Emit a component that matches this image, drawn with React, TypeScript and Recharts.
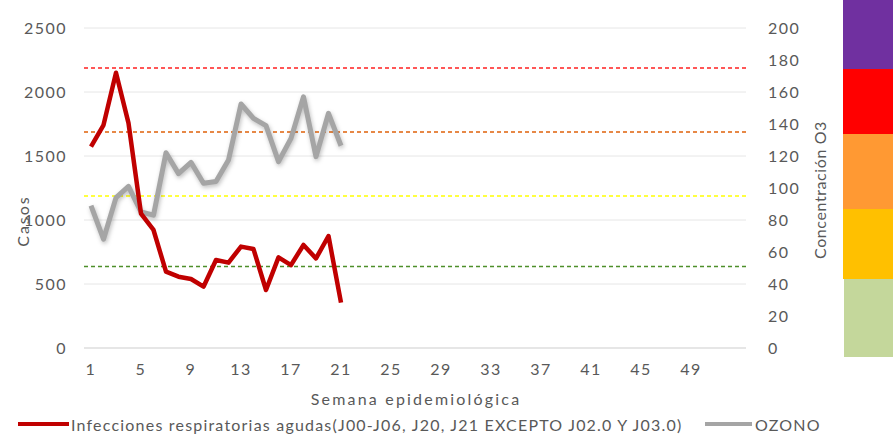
import React from 'react';
import { LineChart, Line, XAxis, YAxis, CartesianGrid, ReferenceLine } from 'recharts';

const weeks = [1, 2, 3, 4, 5, 6, 7, 8, 9, 10, 11, 12, 13, 14, 15, 16, 17, 18, 19, 20, 21, 22, 23, 24, 25, 26, 27, 28, 29, 30, 31, 32, 33, 34, 35, 36, 37, 38, 39, 40, 41, 42, 43, 44, 45, 46, 47, 48, 49, 50, 51, 52, 53];
const casos = [1573, 1742, 2151, 1757, 1050, 922, 596, 557, 539, 479, 687, 667, 792, 773, 453, 708, 648, 805, 700, 875, 354];
const ozono = [89, 68, 94, 101, 85, 83, 122, 109, 116, 103, 104, 117.5, 152.5, 143.5, 139, 116.5, 131, 157, 119.6, 146.7, 126.4];
const leftTicks = [0, 500, 1000, 1500, 2000, 2500];
const rightTicks = [0, 20, 40, 60, 80, 100, 120, 140, 160, 180, 200];
const thresholdValues = [175, 135, 95, 51];
const seriesNames = ['Infecciones respiratorias agudas(J00-J06, J20, J21 EXCEPTO J02.0 Y J03.0)', 'OZONO'];

const thresholdColors = ['#FF2020', '#E0620A', '#FFFF00', '#4E8F2A'];

const data = weeks.map((w, i) => ({
  week: w,
  casos: i < casos.length ? casos[i] : null,
  ozono: i < ozono.length ? ozono[i] : null,
}));

const FONT = 'Lato, "Open Sans", sans-serif';
const TXT = '#595959';

export default function App() {
  const tickStyle = { fill: TXT, fontSize: 16, fontFamily: FONT, letterSpacing: 1.5 };
  return (
    <div style={{ position: 'absolute', left: 0, top: 0, width: 893, height: 434, background: '#fff', fontFamily: FONT, overflow: 'hidden' }}>
      <LineChart width={893} height={434} data={data} margin={{ top: 28, right: 87, bottom: 56, left: 24 }}>
        <CartesianGrid yAxisId="left" vertical={false} stroke="#E6E6E6" />
        <XAxis
          dataKey="week"
          interval={3}
          tickFormatter={(v: number) => (v === 53 ? '' : String(v))}
          tickLine={false}
          axisLine={{ stroke: '#D9D9D9' }}
          tick={tickStyle}
          tickMargin={10}
          height={30}
          padding={{ left: 7, right: 5 }}
        />
        <YAxis
          yAxisId="left"
          domain={[0, 2500]}
          ticks={leftTicks}
          tickLine={false}
          axisLine={false}
          tick={tickStyle}
          tickMargin={11}
          width={60}
        />
        <YAxis
          yAxisId="right"
          orientation="right"
          domain={[0, 200]}
          ticks={rightTicks}
          tickLine={false}
          axisLine={false}
          tick={{ ...tickStyle, textAnchor: 'start' }}
          tickMargin={16}
          width={60}
        />
        {thresholdValues.map((v, i) => (
          <ReferenceLine key={v} yAxisId="right" y={v} stroke={thresholdColors[i]} strokeDasharray="4 3" strokeWidth={1.5} />
        ))}
        <Line yAxisId="right" dataKey="ozono" stroke="#A5A5A5" strokeWidth={5} dot={false} isAnimationActive={false} connectNulls={false} strokeLinejoin="round" style={{ filter: 'drop-shadow(1px 2px 2px rgba(0,0,0,0.25))' }} />
        <Line yAxisId="left" dataKey="casos" stroke="#C00000" strokeWidth={4.5} dot={false} isAnimationActive={false} connectNulls={false} strokeLinejoin="round" />
      </LineChart>

      <div style={{ position: 'absolute', left: 22, top: 221, transform: 'translate(-50%,-50%) rotate(-90deg)', color: TXT, fontSize: 16, whiteSpace: 'nowrap', letterSpacing: 2 }}>Casos</div>
      <div style={{ position: 'absolute', left: 819, top: 190, transform: 'translate(-50%,-50%) rotate(-90deg)', color: TXT, fontSize: 16, whiteSpace: 'nowrap', letterSpacing: 0.6 }}>Concentración O3</div>
      <div style={{ position: 'absolute', left: 416, top: 398, transform: 'translate(-50%,-50%)', color: TXT, fontSize: 16, whiteSpace: 'nowrap', letterSpacing: 2.2 }}>Semana epidemiológica</div>

      <div style={{ position: 'absolute', left: 18, top: 414, height: 20, display: 'flex', alignItems: 'center', color: TXT, fontSize: 16, whiteSpace: 'nowrap', letterSpacing: 1.2 }}>
        <span style={{ display: 'inline-block', width: 51, height: 4, background: '#C00000', marginRight: 2 }} />
        <span>{seriesNames[0]}</span>
      </div>
      <div style={{ position: 'absolute', left: 705, top: 414, height: 20, display: 'flex', alignItems: 'center', color: TXT, fontSize: 16, whiteSpace: 'nowrap', letterSpacing: 1.2 }}>
        <span style={{ display: 'inline-block', width: 47, height: 4, background: '#A5A5A5', marginRight: 3 }} />
        <span>{seriesNames[1]}</span>
      </div>

      <div style={{ position: 'absolute', left: 843, top: 0, width: 50, height: 69, background: '#7030A0' }} />
      <div style={{ position: 'absolute', left: 843, top: 69, width: 50, height: 65, background: '#FF0000' }} />
      <div style={{ position: 'absolute', left: 843, top: 134, width: 50, height: 75, background: '#FF9933' }} />
      <div style={{ position: 'absolute', left: 843, top: 209, width: 50, height: 70, background: '#FFC000' }} />
      <div style={{ position: 'absolute', left: 844, top: 279, width: 49, height: 78, background: '#C4D79B' }} />
    </div>
  );
}
